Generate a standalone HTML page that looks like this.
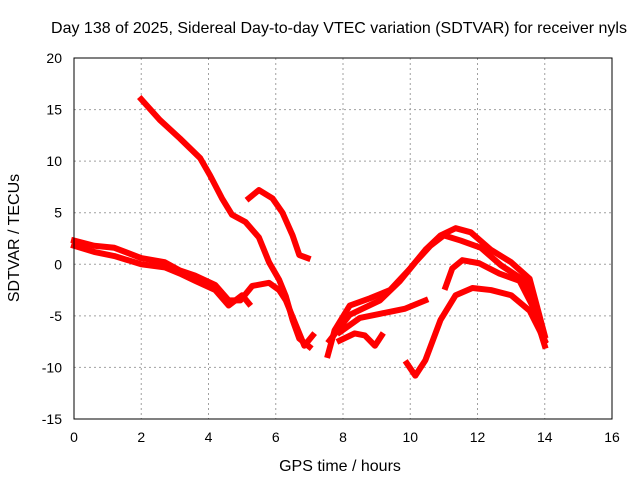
<!DOCTYPE html>
<html><head><meta charset="utf-8"><style>
body{margin:0;background:#fff}
svg text{font-family:"Liberation Sans",sans-serif;font-size:14px;fill:#000}
svg text.big{font-size:16px}
</style></head><body>
<svg id="c" width="640" height="480">
<rect width="640" height="480" fill="#fff"/>
<text class="big" x="339" y="33" text-anchor="middle">Day 138 of 2025, Sidereal Day-to-day VTEC variation (SDTVAR) for receiver nyls</text>
<text class="big" x="340" y="471" text-anchor="middle">GPS time / hours</text>
<text class="big" transform="translate(19,238) rotate(-90)" text-anchor="middle">SDTVAR / TECUs</text>
<g id="grid"></g><g id="ticks"></g><g id="series"></g>
<rect x="74" y="58" width="538" height="361" fill="none" stroke="#000" stroke-width="1"/>
</svg>
<script>
const xTicks=[0,2,4,6,8,10,12,14,16];
const yTicks=[20,15,10,5,0,-5,-10,-15];
const trackA=[[2.0,16],[2.55,14],[3.15,12.2],[3.75,10.3],[4.05,8.6],[4.4,6.4],[4.7,4.8],[5.1,4.1],[5.5,2.6],[5.8,0.2],[6.1,-1.5],[6.3,-3.1],[6.5,-5.4],[6.7,-7.2],[7.0,-8.0]];
const trackB=[[5.2,6.4],[5.5,7.2],[5.9,6.4],[6.2,5.0],[6.5,2.8],[6.7,0.9],[6.95,0.6]];
const trackC=[[0,2.3],[0.6,1.8],[1.2,1.6],[2.0,0.6],[2.7,0.2],[3.15,-0.6],[3.6,-1.1],[4.2,-2.0],[4.6,-3.5],[4.95,-3.5],[5.3,-2.1],[5.8,-1.8],[6.1,-2.5],[6.3,-3.5],[6.6,-5.9],[6.85,-7.9],[7.1,-6.9]];
const trackC2=[[0,1.8],[0.6,1.2],[1.2,0.8],[2.0,0.0],[2.7,-0.3],[3.15,-0.9],[3.6,-1.6],[4.2,-2.5],[4.6,-4.0],[5.0,-3.0],[5.2,-3.8]];
const trackD1=[[7.55,-8.8],[7.75,-6.4],[8.2,-4.0],[8.8,-3.3],[9.4,-2.5],[10.0,-0.4],[10.45,1.4],[10.9,2.8],[11.35,3.5],[11.8,3.1],[12.4,1.4],[13.0,0.2],[13.55,-1.4],[14.0,-6.9]];
const trackD2=[[7.6,-7.4],[8.2,-4.9],[9.1,-3.5],[9.7,-1.6],[10.15,0.2],[10.6,1.8],[11.0,2.8],[11.5,2.3],[12.1,1.6],[12.7,-0.1],[13.4,-1.6],[14.0,-7.9]];
const trackD3=[[7.9,-6.6],[8.5,-5.2],[9.25,-4.7],[9.85,-4.3],[10.45,-3.5]];
const trackD4=[[7.9,-7.4],[8.35,-6.7],[8.65,-6.9],[8.95,-7.9],[9.15,-6.9]];
const trackE=[[11.05,-2.2],[11.25,-0.4],[11.55,0.4],[12.05,0.1],[12.65,-0.9],[13.25,-1.6],[13.85,-5.4],[14.0,-7.4]];
const trackF=[[9.9,-9.6],[10.15,-10.8],[10.45,-9.3],[10.9,-5.4],[11.35,-3.0],[11.85,-2.3],[12.4,-2.5],[13.0,-3.0],[13.55,-4.5],[14.0,-7.4]];
const tracks=[trackA,trackB,trackC,trackC2,trackD1,trackD2,trackD3,trackD4,trackE,trackF];
const X=v=>74+v*538/16, Y=v=>58+(20-v)*361/35;
const NS='http://www.w3.org/2000/svg';
const g=document.getElementById('grid'),t=document.getElementById('ticks'),s=document.getElementById('series');
function mk(tag,at,par){const e=document.createElementNS(NS,tag);for(const k in at)e.setAttribute(k,at[k]);par.appendChild(e);return e;}
xTicks.forEach(v=>{
 const l=mk('line',{x1:X(v),x2:X(v),y1:58,y2:419,stroke:'#a0a0a0','stroke-dasharray':'2,3'},g);
 
 
 const tx=mk('text',{x:X(v),y:442,'text-anchor':'middle'},t);tx.textContent=v;
 
 
});
yTicks.forEach(v=>{
 const l=mk('line',{x1:74,x2:612,y1:Y(v),y2:Y(v),stroke:'#a0a0a0','stroke-dasharray':'2,3'},g);
 
 
 const tx=mk('text',{x:62,y:Y(v)+5,'text-anchor':'end'},t);tx.textContent=v;
 
 
});
tracks.forEach(tr=>{
 const p=mk('polyline',{points:tr.map(d=>X(d[0])+','+Y(d[1])).join(' '),fill:'none',stroke:'#ff0000','stroke-width':6,'stroke-linejoin':'round','stroke-linecap':'square'},s);
 
 
});
</script>
</body></html>
